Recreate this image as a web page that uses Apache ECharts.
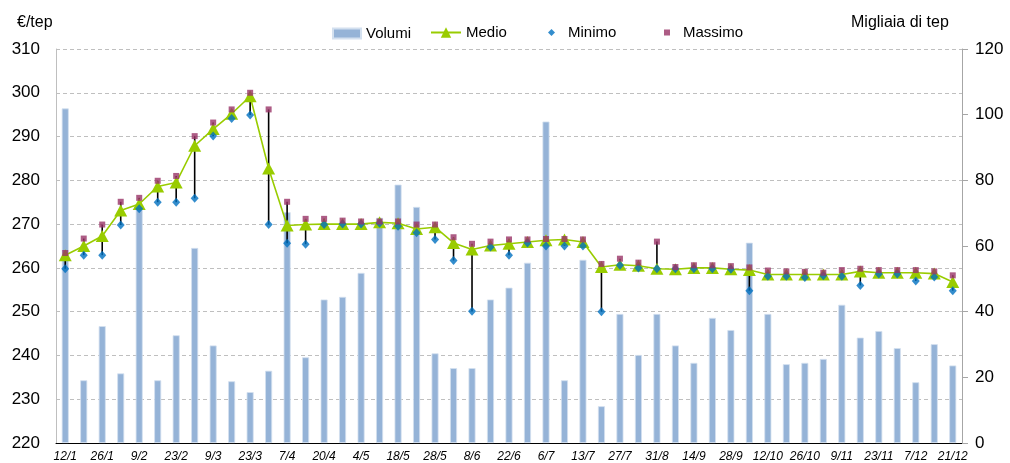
<!DOCTYPE html>
<html><head><meta charset="utf-8">
<script src="https://cdn.jsdelivr.net/npm/echarts@6/dist/echarts.min.js"></script>
<style>html,body{margin:0;padding:0;background:#fff}#c{width:1010px;height:463px}</style>
</head><body><div id="c"></div>
<script>
const categories = ['12/1','19/1','26/1','2/2','9/2','16/2','23/2','2/3','9/3','16/3','23/3','30/3','7/4','14/4','20/4','27/4','4/5','11/5','18/5','25/5','28/5','1/6','8/6','15/6','22/6','29/6','6/7','9/7','13/7','20/7','27/7','3/8','31/8','7/9','14/9','21/9','28/9','5/10','12/10','19/10','26/10','2/11','9/11','16/11','23/11','30/11','7/12','14/12','21/12'];
const volumi = [101.9,19.1,35.6,21.2,71.8,19.1,32.8,59.4,29.7,18.8,15.5,22.0,70.3,26.1,43.7,44.5,51.8,68.6,78.7,71.9,27.3,22.8,22.8,43.7,47.3,54.9,97.9,19.1,55.8,11.2,39.3,26.8,39.3,29.7,24.4,38.1,34.4,61.0,39.3,24.0,24.4,25.6,42.1,32.1,34.1,28.9,18.5,30.1,23.6];
const medio = [262.9,265.0,267.3,273.1,274.6,278.6,279.5,287.9,291.7,295.2,299.2,282.7,269.7,269.9,270.0,270.0,270.0,270.4,270.2,268.9,269.3,265.7,264.2,265.1,265.5,265.9,266.3,266.5,265.9,260.2,260.7,260.5,259.8,259.7,260.0,260.0,259.7,259.5,258.5,258.5,258.5,258.5,258.5,259.2,258.9,258.9,258.9,258.7,256.8];
const minimo = [259.8,262.9,262.9,269.8,273.5,275.0,275.0,275.9,290.1,294.1,294.9,269.9,265.6,265.4,269.9,270.0,270.0,270.2,269.5,268.0,266.5,261.7,250.1,264.8,262.9,265.7,265.0,265.0,265.0,250.0,260.6,260.0,259.8,259.8,259.8,259.8,259.7,254.8,258.1,258.1,257.8,258.2,258.1,256.0,258.6,258.6,257.0,257.9,254.8];
const massimo = [263.4,266.7,269.9,275.1,276.0,279.9,281.0,290.1,293.2,296.2,300.0,296.2,275.1,271.2,271.2,270.8,270.6,270.6,270.6,269.9,269.9,267.0,265.5,266.0,266.5,266.5,266.6,266.6,266.5,260.9,262.1,261.2,266.0,260.2,260.6,260.6,260.4,260.1,259.4,259.2,259.1,258.9,259.5,259.8,259.5,259.5,259.5,259.2,258.3];
const leftTicks = {min:220, max:310, interval:10};
const rightTicks = {min:0, max:120, interval:20};

const FONT = 'Liberation Sans, Arial, sans-serif';
const hilo = categories.map((c,i)=>[i, minimo[i], massimo[i]]);
const chart = echarts.init(document.getElementById('c'), null, {renderer:'canvas'});
const legendText = {fontFamily:FONT, fontSize:15, color:'#000'};
chart.setOption({
  animation:false,
  backgroundColor:'#fff',
  title:[
    {text:'€/tep', left:12, top:10, textStyle:{fontFamily:FONT, fontSize:16, fontWeight:'normal', color:'#000'}},
    {text:'Migliaia di tep', left:846, top:10, textStyle:{fontFamily:FONT, fontSize:16, fontWeight:'normal', color:'#000'}}
  ],
  legend:[
    {data:['Volumi'], left:332, top:26, padding:0, itemWidth:28, itemHeight:10, textStyle:legendText, icon:'rect'},
    {data:['Medio'], left:430, top:25, padding:0, itemWidth:30, itemHeight:13, textStyle:legendText},
    {data:['Minimo'], left:548, top:25, padding:0, itemWidth:7, itemHeight:7, textStyle:Object.assign({},legendText,{padding:[0,0,0,8]})},
    {data:['Massimo'], left:664, top:25, padding:0, itemWidth:6, itemHeight:6, textStyle:Object.assign({},legendText,{padding:[0,0,0,8]})}
  ],
  grid:{left:56, right:48, top:49, bottom:18, containLabel:false},
  xAxis:{
    type:'category', data:categories, boundaryGap:true,
    axisLine:{lineStyle:{color:'#000', width:1}},
    axisTick:{interval:0, length:5, lineStyle:{color:'#000'}},
    axisLabel:{interval:1, fontFamily:FONT, fontSize:12, fontStyle:'italic', color:'#000', margin:8}
  },
  yAxis:[
    {type:'value', min:leftTicks.min, max:leftTicks.max, interval:leftTicks.interval, position:'left',
     axisLine:{show:true, lineStyle:{color:'#BFBFBF'}}, axisTick:{show:false},
     axisLabel:{fontFamily:FONT, fontSize:17, color:'#000', margin:16},
     splitLine:{show:true, lineStyle:{color:'#BFBFBF', type:[4,3], width:1}}},
    {type:'value', min:rightTicks.min, max:rightTicks.max, interval:rightTicks.interval, position:'right',
     axisLine:{show:true, lineStyle:{color:'#A6A6A6'}}, axisTick:{show:true, inside:false, length:6, lineStyle:{color:'#A6A6A6'}},
     axisLabel:{fontFamily:FONT, fontSize:17, color:'#000', margin:13},
     splitLine:{show:false}}
  ],
  series:[
    {name:'Volumi', type:'bar', yAxisIndex:1, data:volumi, barWidth:7,
     itemStyle:{color:'#95B3D7', borderColor:'#D3E0EF', borderWidth:0.8}, z:1},
    {name:'HiLo', type:'custom', yAxisIndex:0, data:hilo, encode:{x:0, y:[1,2]}, z:2,
     renderItem:function(params, api){
       const a = api.coord([api.value(0), api.value(1)]);
       const b = api.coord([api.value(0), api.value(2)]);
       return {type:'line', shape:{x1:a[0], y1:a[1], x2:b[0], y2:b[1]}, style:{stroke:'#000', lineWidth:1.6}};
     }},
    {name:'Medio', type:'line', yAxisIndex:0, data:medio, symbol:'triangle', symbolSize:[13,12],
     lineStyle:{color:'#99CC00', width:1.6}, itemStyle:{color:'#99CC00'}, z:3},
    {name:'Minimo', type:'scatter', yAxisIndex:0, data:minimo, symbol:'diamond', symbolSize:[8,9],
     itemStyle:{color:'#0070C0'}, z:4},
    {name:'Massimo', type:'scatter', yAxisIndex:0, data:massimo, symbol:'rect', symbolSize:[6,6],
     itemStyle:{color:'#993366'}, z:5}
  ]
});
</script></body></html>
